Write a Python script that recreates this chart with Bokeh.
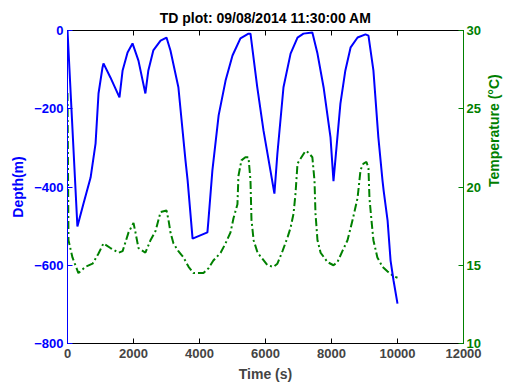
import math
from bokeh.plotting import figure
from bokeh.models import LinearAxis, Range1d, FixedTicker, Title
from bokeh.embed import file_html
from bokeh.resources import INLINE

# Depth series (time s, depth m)
depth_t = [0, 300, 485, 700, 850, 940, 1060, 1090, 1300, 1575, 1670, 1820, 1970,
           2150, 2360, 2450, 2600, 2820, 3000, 3120, 3360, 3575, 3640, 3790, 4240,
           4270, 4390, 4580, 4790, 5000, 5240, 5485, 5545, 5750, 5940, 6150, 6270,
           6360, 6545, 6760, 6970, 7150, 7420, 7575, 7760, 7970, 8060, 8270, 8420,
           8580, 8790, 9030, 9120, 9270, 9420, 9545, 9580, 9700, 9790, 9880, 10000]
depth_v = [0, -501, -442, -376, -289, -161, -95, -84, -120, -171, -102, -56, -33,
           -77, -161, -102, -51, -26, -18, -51, -145, -332, -383, -532, -516,
           -486, -358, -217, -128, -64, -20, -8, -8, -145, -256, -358, -417,
           -315, -145, -59, -18, -8, -5, -59, -145, -273, -385, -187, -102,
           -43, -18, -10, -13, -102, -273, -383, -409, -486, -588, -639, -698]

# Temperature series (time s, degC)
temp_t = [0, 30, 150, 330, 545, 760, 940, 1090, 1300, 1545, 1670, 1760, 1850, 2000,
          2060, 2150, 2360, 2515, 2670, 2820, 3000, 3060, 3120, 3210, 3360, 3515,
          3670, 3820, 4120, 4270, 4420, 4640, 4790, 4940, 5030, 5150, 5180, 5270,
          5390, 5485, 5545, 5575, 5640, 5760, 5910, 6060, 6240, 6360, 6515, 6670,
          6760, 6850, 6910, 6970, 7060, 7210, 7300, 7420, 7485, 7515, 7575, 7670,
          7880, 8060, 8180, 8330, 8485, 8640, 8790, 8880, 8970, 9060, 9120, 9150,
          9210, 9270, 9390, 9545, 9700, 9880, 10000]
temp_v = [26.0, 16.6, 15.5, 14.5, 14.9, 15.1, 15.75, 16.4, 16.1, 15.8, 15.9, 16.5,
          17.1, 17.7, 17.1, 16.1, 15.8, 16.6, 17.2, 18.4, 18.5, 17.9, 17.1, 16.4,
          15.9, 15.5, 14.9, 14.5, 14.5, 14.8, 15.3, 15.8, 16.4, 17.1, 18.0, 18.9,
          20.7, 21.7, 21.9, 21.9, 20.4, 17.9, 16.6, 15.8, 15.4, 15.0, 14.9, 15.1,
          15.9, 16.8, 17.4, 18.3, 19.6, 21.5, 21.8, 22.3, 22.2, 21.9, 20.4, 18.3,
          16.6, 15.8, 15.2, 15.0, 15.2, 15.9, 16.6, 17.9, 19.3, 21.1, 21.5, 21.6,
          21.2, 19.3, 17.9, 16.6, 15.5, 14.9, 14.6, 14.3, 14.2]

x_ticks = [0, 2000, 4000, 6000, 8000, 10000, 12000]
depth_ticks = [-800, -600, -400, -200, 0]
temp_ticks = [10, 15, 20, 25, 30]

BLUE = "#0000ff"
GREEN = "#008000"
FONT = "Liberation Sans"
TICK_SIZE = "13px"
LABEL_SIZE = "14px"
TEMP_LABEL = "Temperature (°C)"

p = figure(width=512, height=384, output_backend="svg", toolbar_location=None,
           x_range=Range1d(0, 12000), y_range=Range1d(-800, 0),
           min_border_left=67, min_border_right=49, min_border_top=30,
           min_border_bottom=41,
           title="TD plot: 09/08/2014 11:30:00 AM")
p.extra_y_ranges = {"temp": Range1d(10, 30)}
p.grid.visible = False
p.outline_line_color = "black"
p.outline_line_width = 1

p.title.align = "center"
p.title.text_font = FONT
p.title.text_font_size = "14px"
p.title.text_font_style = "bold"
p.title.text_color = "black"

# bottom axis
xa = p.xaxis[0]
xa.ticker = FixedTicker(ticks=x_ticks)
xa.axis_label = "Time (s)"
xa.major_tick_in = 5
xa.major_tick_out = 0
xa.minor_tick_line_color = None
xa.axis_line_color = "black"
xa.major_label_text_font = FONT
xa.major_label_text_font_size = TICK_SIZE
xa.major_label_text_font_style = "bold"
xa.axis_label_text_font = FONT
xa.axis_label_text_font_size = LABEL_SIZE
xa.axis_label_text_font_style = "bold"
xa.axis_label_standoff = 5
xa.major_label_standoff = 5

# left axis
ya = p.yaxis[0]
ya.ticker = FixedTicker(ticks=depth_ticks)
ya.axis_label = "Depth(m)"
ya.major_tick_in = 5
ya.major_tick_out = 0
ya.minor_tick_line_color = None
ya.axis_line_color = BLUE
ya.major_tick_line_color = BLUE
ya.major_label_text_color = BLUE
ya.axis_label_text_color = BLUE
ya.major_label_text_font = FONT
ya.major_label_text_font_size = TICK_SIZE
ya.major_label_text_font_style = "bold"
ya.axis_label_text_font = FONT
ya.axis_label_text_font_size = LABEL_SIZE
ya.axis_label_text_font_style = "bold"
ya.major_label_standoff = 4
ya.axis_label_standoff = 5

# right axis
ra = LinearAxis(y_range_name="temp", ticker=FixedTicker(ticks=temp_ticks))
ra.major_tick_in = 5
ra.major_tick_out = 0
ra.minor_tick_line_color = None
ra.axis_line_color = GREEN
ra.major_tick_line_color = GREEN
ra.major_label_text_color = GREEN
ra.major_label_text_font = FONT
ra.major_label_text_font_size = TICK_SIZE
ra.major_label_text_font_style = "bold"
ra.major_label_standoff = 3
ra.axis_label_text_color = GREEN
ra.axis_label_text_font = FONT
ra.axis_label_text_font_size = LABEL_SIZE
ra.axis_label_text_font_style = "bold"
ra.axis_label_standoff = 10
if "axis_label_orientation" in ra.properties():
    ra.axis_label = TEMP_LABEL
    ra.axis_label_orientation = math.pi / 2
    p.add_layout(ra, "right")
else:
    p.add_layout(ra, "right")
    t = Title(text=TEMP_LABEL, align="center", text_color=GREEN, text_font=FONT,
              text_font_size=LABEL_SIZE, text_font_style="bold", standoff=12)
    p.add_layout(t, "right")

# top axis: ticks only
ta = LinearAxis(ticker=FixedTicker(ticks=x_ticks),
                major_label_overrides={t: "" for t in x_ticks})
ta.major_tick_in = 5
ta.major_tick_out = 0
ta.minor_tick_line_color = None
ta.major_label_standoff = 0
ta.axis_line_color = "black"
p.add_layout(ta, "above")

p.line(temp_t, temp_v, y_range_name="temp", line_color=GREEN, line_width=2,
       line_dash="8 3 2 3")
p.line(depth_t, depth_v, line_color=BLUE, line_width=2)

open("out.html", "w").write(file_html(p, INLINE))
